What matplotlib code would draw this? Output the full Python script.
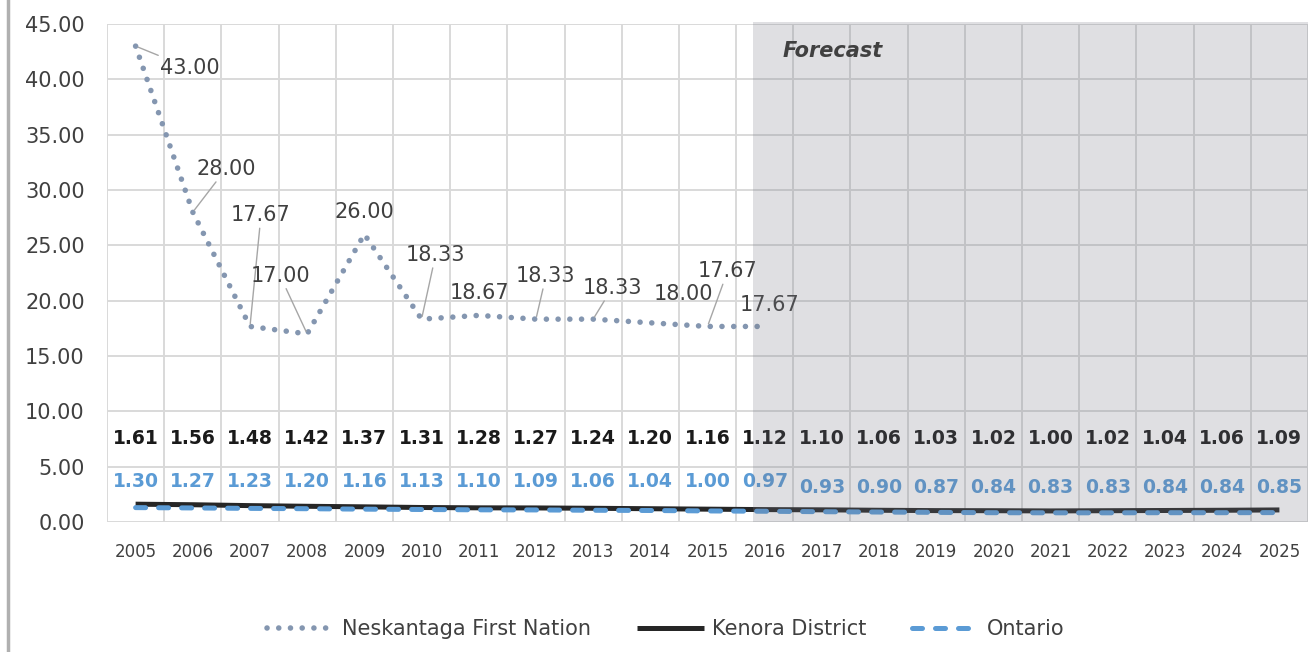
import matplotlib
matplotlib.use('Agg')
import matplotlib.pyplot as plt
from matplotlib.lines import Line2D

# Data
years = [str(y) for y in range(2005, 2026)]
neskantaga = [43.00, 28.00, 17.67, 17.00, 26.00, 18.33, 18.67, 18.33, 18.33, 18.00, 17.67, 17.67]
kenora = [1.61, 1.56, 1.48, 1.42, 1.37, 1.31, 1.28, 1.27, 1.24, 1.20, 1.16, 1.12,
          1.10, 1.06, 1.03, 1.02, 1.00, 1.02, 1.04, 1.06, 1.09]
ontario = [1.30, 1.27, 1.23, 1.20, 1.16, 1.13, 1.10, 1.09, 1.06, 1.04, 1.00, 0.97,
           0.93, 0.90, 0.87, 0.84, 0.83, 0.83, 0.84, 0.84, 0.85]
yticks = [0, 5, 10, 15, 20, 25, 30, 35, 40, 45]

# label placement for the Neskantaga values (pixels from the point) and leader flags
nesk_offsets = [(54, -22), (33, 43), (11, 111), (-27, 58), (0, 22), (14, 64),
                (1, 22), (10, 43), (19, 31), (33, 29), (20, 55), (5, 21)]
nesk_leader = [1, 1, 1, 1, 0, 1, 0, 1, 1, 0, 1, 0]

W, H = 1309, 652
fig = plt.figure(figsize=(W / 100, H / 100), dpi=100)
ax = fig.add_axes([107 / W, 1 - 522 / H, (1308 - 107) / W, (522 - 24) / H])

x = list(range(len(years)))
txt = '#404040'

# lines
ax.plot(x[:len(neskantaga)], neskantaga, color='#8496b0', lw=4,
        linestyle=(0, (0.01, 2.1)), dash_capstyle='round', label='Neskantaga First Nation', zorder=2)
ax.plot(x, kenora, color='#262626', lw=3.6, solid_capstyle='butt', label='Kenora District', zorder=2)
ax.plot(x, ontario, color='#5b9bd5', lw=3.6, linestyle=(0, (2, 2.6)),
        dash_capstyle='round', label='Ontario', zorder=2)

# data labels
for i, v in enumerate(neskantaga):
    dx, dy = nesk_offsets[i]
    props = dict(arrowstyle='-', color='#a6a6a6', lw=1, shrinkA=0, shrinkB=2) if nesk_leader[i] else None
    ax.annotate('%.2f' % v, xy=(i, v), xytext=(dx, dy), textcoords='offset pixels',
                ha='center', va='center', fontsize=15, color=txt, arrowprops=props, zorder=3)

for i, v in enumerate(kenora):
    ax.text(i, 7.5, '%.2f' % v, ha='center', va='center', fontsize=13.5,
            fontweight='bold', color='#1a1a1a', zorder=3)

for i, v in enumerate(ontario):
    yy = 3.7 if i <= 11 else 3.15
    ax.text(i, yy, '%.2f' % v, ha='center', va='center', fontsize=13.5,
            fontweight='bold', color='#5b9bd5', zorder=3)

# forecast shading drawn over everything like in the original
ax.axvspan(10.8, 20.5, ymin=0, ymax=1.005, color='#767884', alpha=0.23, lw=0, zorder=4, clip_on=False)
ax.text(12.19, 42.6, 'Forecast', ha='center', va='center', fontsize=15,
        fontweight='bold', fontstyle='italic', color='#404040', zorder=5)

# axes
ax.set_xlim(-0.5, 20.5)
ax.set_ylim(0, 45)
ax.set_xticks(x)
ax.set_xticklabels(years, fontsize=12, color=txt)
ax.set_xticks([i - 0.5 for i in range(len(years) + 1)], minor=True)
ax.set_yticks(yticks)
ax.set_yticklabels(['%.2f' % t for t in yticks], fontsize=15, color=txt)
ax.tick_params(axis='both', which='both', length=0)
ax.tick_params(axis='x', pad=15)
ax.tick_params(axis='y', pad=16)
ax.set_axisbelow(True)
ax.grid(axis='y', which='major', color='#d9d9d9', lw=1.4)
ax.grid(axis='x', which='minor', color='#d9d9d9', lw=1.4)
for s in ax.spines.values():
    s.set_visible(False)

# legend
fig.legend(loc='center', bbox_to_anchor=(666 / W, 1 - 629 / H), ncol=3, frameon=False,
           fontsize=15, handlelength=3.2, handletextpad=0.4, columnspacing=2.2,
           labelcolor=txt)

# grey border on the left of the chart area
fig.add_artist(Line2D([8 / W, 8 / W], [0, 1], color='#b0b0b0', lw=2.5, transform=fig.transFigure))

fig.savefig('out.png', dpi=100)
